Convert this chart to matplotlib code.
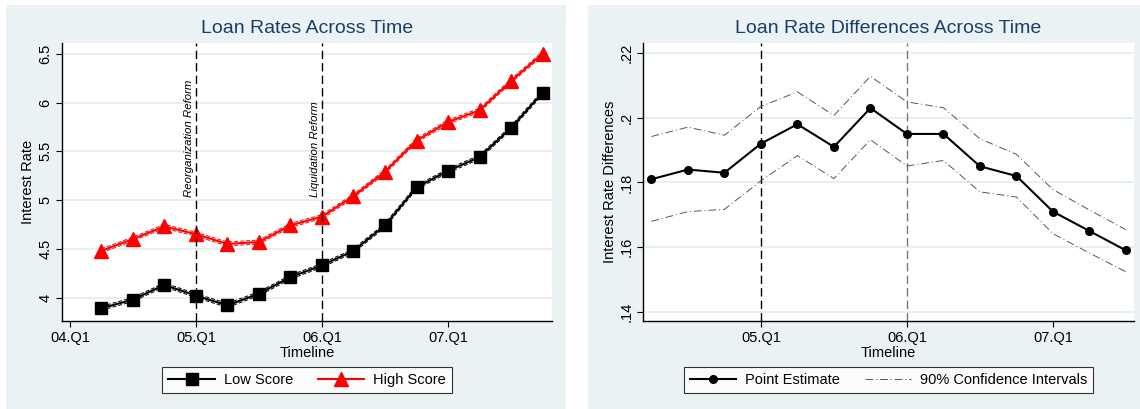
import matplotlib
matplotlib.use("Agg")
import matplotlib.pyplot as plt
from matplotlib.patches import Rectangle

plt.rcParams['font.family'] = ['Liberation Sans', 'DejaVu Sans']

# quarters since 04.Q1
quarters = list(range(1, 16))
tick_pos = [0, 4, 8, 12]
tick_lab = ['04.Q1', '05.Q1', '06.Q1', '07.Q1']

low = [3.89, 3.98, 4.13, 4.02, 3.92, 4.04, 4.21, 4.33, 4.48, 4.74, 5.13, 5.30, 5.44, 5.74, 6.10]
low_lo = [3.87, 3.96, 4.11, 4.00, 3.90, 4.02, 4.19, 4.31, 4.46, 4.72, 5.11, 5.28, 5.42, 5.72, 6.08]
low_hi = [3.91, 4.00, 4.15, 4.04, 3.94, 4.06, 4.23, 4.35, 4.50, 4.76, 5.15, 5.32, 5.46, 5.76, 6.12]

high = [4.48, 4.60, 4.73, 4.65, 4.55, 4.57, 4.74, 4.83, 5.04, 5.29, 5.61, 5.80, 5.92, 6.22, 6.50]
high_lo = [4.46, 4.58, 4.71, 4.63, 4.53, 4.55, 4.72, 4.81, 5.02, 5.27, 5.59, 5.78, 5.90, 6.20, 6.48]
high_hi = [4.50, 4.62, 4.75, 4.67, 4.57, 4.59, 4.76, 4.85, 5.06, 5.31, 5.63, 5.82, 5.94, 6.24, 6.52]

# difference panel
dq = list(range(1, 15))
diff = [0.181, 0.184, 0.183, 0.192, 0.198, 0.191, 0.203, 0.195, 0.195, 0.185, 0.182, 0.171, 0.165, 0.159]
ci_up = [0.1942, 0.1971, 0.1946, 0.2035, 0.2080, 0.2007, 0.2128, 0.2049, 0.2031, 0.1935, 0.1887, 0.1778, 0.1715, 0.1654]
ci_lo = [0.1680, 0.1710, 0.1717, 0.1805, 0.1883, 0.1812, 0.1932, 0.1851, 0.1868, 0.1771, 0.1755, 0.1642, 0.1582, 0.1524]

reforms = [4, 8]
reform_names = ['Reorganization Reform', 'Liquidation Reform']

bg = '#EAF2F3'
grid_c = '#E3EDEF'
title_c = '#1A3F66'

W, H = 1140, 409
fig = plt.figure(figsize=(W / 100, H / 100), dpi=100)
fig.patch.set_facecolor('white')
fig.patches.append(Rectangle((6 / W, 0), 560 / W, 1 - 5 / H, transform=fig.transFigure,
                             fc=bg, ec='none', zorder=-10))
fig.patches.append(Rectangle((588 / W, 0), 552 / W, 1 - 5 / H, transform=fig.transFigure,
                             fc=bg, ec='none', zorder=-10))

ax1 = fig.add_axes([62 / W, 1 - 321 / H, 490 / W, 278 / H])
ax2 = fig.add_axes([643 / W, 1 - 321 / H, 491 / W, 278 / H])


def style(ax):
    ax.set_facecolor('white')
    for s in ['top', 'right']:
        ax.spines[s].set_visible(False)
    ax.spines['left'].set_linewidth(1.0)
    ax.spines['bottom'].set_linewidth(1.0)
    ax.tick_params(direction='out', length=4, width=0.8, labelsize=10.5, pad=3)
    ax.grid(axis='y', color=grid_c, lw=1.2)
    ax.set_axisbelow(True)
    for lab in ax.get_yticklabels():
        lab.set_rotation(90)
        lab.set_va('center')


def legend(ax, handles):
    leg = ax.legend(handles=handles, loc='center', bbox_to_anchor=(0.5, -0.212), ncol=2,
                    frameon=True, fancybox=False, edgecolor='black', fontsize=10.5,
                    handlelength=3.2, handletextpad=0.6, columnspacing=1.7,
                    borderpad=0.4, borderaxespad=0)
    leg.get_frame().set_linewidth(0.8)


# left panel
ax1.plot(quarters, low_lo, color='black', lw=0.7, ls=(0, (4, 2)))
ax1.plot(quarters, low_hi, color='black', lw=0.7, ls=(0, (4, 2)))
ax1.plot(quarters, high_lo, color='red', lw=0.7, ls=(0, (4, 2)))
ax1.plot(quarters, high_hi, color='red', lw=0.7, ls=(0, (4, 2)))
l1, = ax1.plot(quarters, low, color='black', lw=1.5, marker='s', ms=9, label='Low Score')
l2, = ax1.plot(quarters, high, color='red', lw=1.5, marker='^', ms=10, label='High Score')
for r, name in zip(reforms, reform_names):
    ax1.axvline(r, color='black', lw=1.0, ls=(0, (6, 3)))
    ax1.text(r - 0.05, 5.03, name, rotation=90, ha='right', va='bottom',
             fontsize=8.2, style='italic')
ax1.set_xlim(-0.25, 15.3)
ax1.set_ylim(3.76, 6.61)
ax1.set_xticks(tick_pos)
ax1.set_xticklabels(tick_lab)
ax1.set_yticks([4, 4.5, 5, 5.5, 6, 6.5])
ax1.set_yticklabels(['4', '4.5', '5', '5.5', '6', '6.5'])
ax1.set_xlabel('Timeline', fontsize=10.5, labelpad=1)
ax1.set_ylabel('Interest Rate', fontsize=10.5, labelpad=2)
ax1.set_title('Loan Rates Across Time', fontsize=14, color=title_c, pad=7)
style(ax1)
legend(ax1, [l1, l2])

# right panel
ax2.axvline(reforms[0], color='black', lw=1.0, ls=(0, (6, 3)))
ax2.axvline(reforms[1], color='#777777', lw=1.0, ls=(0, (6, 3)))
c1, = ax2.plot(dq, ci_up, color='#555555', lw=0.7, ls=(0, (8, 3, 1, 3)),
               label='90% Confidence Intervals')
ax2.plot(dq, ci_lo, color='#555555', lw=0.7, ls=(0, (8, 3, 1, 3)))
p1, = ax2.plot(dq, diff, color='black', lw=1.5, marker='o', ms=5.5, label='Point Estimate')
ax2.set_xlim(0.77, 14.22)
ax2.set_ylim(0.1372, 0.2231)
ax2.set_xticks(tick_pos[1:])
ax2.set_xticklabels(tick_lab[1:])
ax2.set_yticks([0.14, 0.16, 0.18, 0.2, 0.22])
ax2.set_yticklabels(['.14', '.16', '.18', '.2', '.22'])
ax2.set_xlabel('Timeline', fontsize=10.5, labelpad=1)
ax2.set_ylabel('Interest Rate Differences', fontsize=10.5, labelpad=2)
ax2.set_title('Loan Rate Differences Across Time', fontsize=14, color=title_c, pad=7)
style(ax2)
legend(ax2, [p1, c1])

fig.savefig('out.png', dpi=100, facecolor=fig.get_facecolor())
